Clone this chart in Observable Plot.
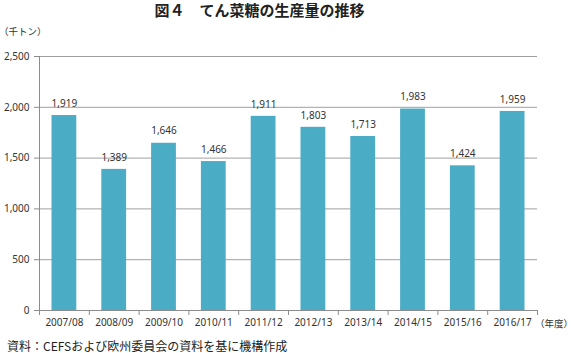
<!DOCTYPE html>
<html><head><meta charset="utf-8">
<script src="https://cdn.jsdelivr.net/npm/d3@7"></script>
<script src="https://cdn.jsdelivr.net/npm/@observablehq/plot@0.6"></script>
<style>
body{margin:0;background:#fff;}
#wrap{position:relative;width:573px;height:353px;overflow:hidden;font-family:"Noto Sans CJK JP","Noto Sans",sans-serif;color:#222;}
#title{height:22px;line-height:20px;font-size:15px;font-weight:bold;text-align:center;padding-right:54px;}
#chart{height:313px;}
#chart svg{display:block;}
#caption{height:18px;line-height:22px;font-size:12px;padding-left:7px;white-space:nowrap;}
.unit{position:absolute;font-size:9.5px;line-height:12px;color:#333;white-space:nowrap;}
</style>
</head>
<body>
<div id="wrap">
  <div id="title">図４　てん菜糖の生産量の推移</div>
  <div id="chart"></div>
  <div id="caption">資料：CEFSおよび欧州委員会の資料を基に機構作成</div>
  <span class="unit" style="left:-1px;top:25px;">（千トン）</span>
  <span class="unit" style="left:535px;top:317px;">（年度）</span>
</div>
<script>
const years = ["2007/08","2008/09","2009/10","2010/11","2011/12","2012/13","2013/14","2014/15","2015/16","2016/17"];
const production = [1919,1389,1646,1466,1911,1803,1713,1983,1424,1959];
const yTicks = [0,500,1000,1500,2000,2500];

const data = years.map((year, i) => ({year, i, value: production[i]}));
const fmt = d3.format(",");

const chart = Plot.plot({
  width: 573,
  height: 313,
  marginTop: 34,
  marginBottom: 25,
  marginLeft: 39,
  marginRight: 36,
  style: {fontFamily: "'Noto Sans', sans-serif", fontSize: "10px", color: "#333", background: "#fff"},
  x: {domain: [0, years.length]},
  y: {domain: [0, 2500]},
  marks: [
    Plot.gridY(yTicks, {stroke: "#a0a0a0", strokeOpacity: 1}),
    Plot.rect(data, {x1: "i", x2: d => d.i + 1, y1: 0, y2: "value", fill: "#4bacc6", insetLeft: 12.5, insetRight: 12.5}),
    Plot.ruleY([0], {stroke: "#8c8c8c"}),
    Plot.ruleX([0], {stroke: "#8c8c8c"}),
    Plot.axisY({ticks: yTicks, tickSize: 5, tickPadding: 5, tickFormat: fmt, stroke: "#8c8c8c", fill: "#333", label: null}),
    Plot.axisX({ticks: d3.range(years.length + 1), tickSize: 5, tickFormat: () => "", stroke: "#8c8c8c", label: null}),
    Plot.axisX({ticks: data.map(d => d.i + 0.5), tickSize: 0, tickPadding: 8, tickFormat: v => years[Math.floor(v)], fill: "#333", label: null}),
    Plot.text(data, {x: d => d.i + 0.5, y: "value", text: d => fmt(d.value), dy: -12, fill: "#333"})
  ]
});
document.getElementById("chart").appendChild(chart);
</script>
</body></html>
